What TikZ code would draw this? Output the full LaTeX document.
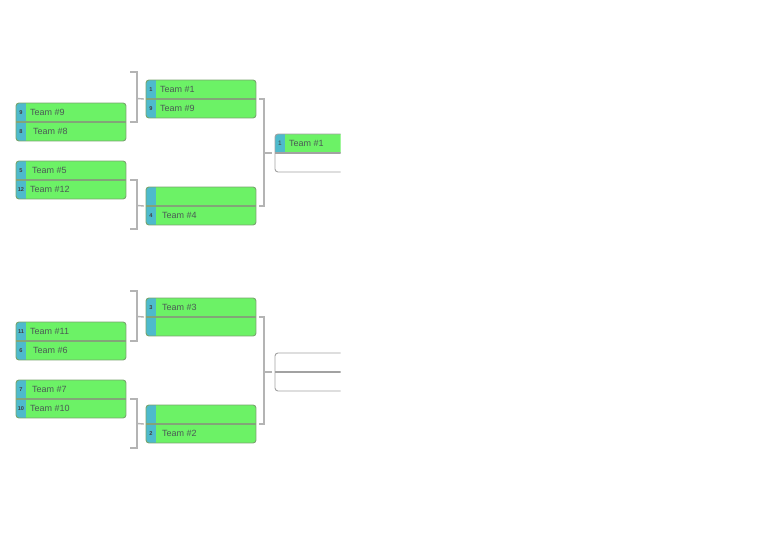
\documentclass[tikz,border=0pt]{standalone}
\usepackage{fontspec}
\setmainfont{Liberation Sans}
\usetikzlibrary{calc}
\definecolor{tgreen}{RGB}{108,242,102}
\definecolor{seedblue}{RGB}{78,186,204}
\definecolor{mborder}{RGB}{120,165,110}
\definecolor{mdivide}{RGB}{130,165,120}
\definecolor{connc}{RGB}{180,180,180}
\definecolor{txtc}{RGB}{75,90,85}
\tikzset{
  matchnode/.style={inner sep=0pt, minimum width=110pt, minimum height=38pt},
  matchborder/.style={draw=mborder, line width=0.9pt, rounded corners=3pt},
  divider/.style={draw=mdivide, line width=1.6pt},
  seedtxt/.style={inner sep=0pt, font=\fontsize{5.6}{5.6}\selectfont\bfseries, text=black!75},
  teamtxt/.style={inner sep=0pt, anchor=west, font=\fontsize{9}{9}\selectfont, text=txtc},
  conn/.style={draw=connc, line width=1.4pt},
  emptyborder/.style={draw=connc!90!black, line width=0.9pt, rounded corners=3pt}
}
\newcommand{\drawmatch}[9]{%
  \node[matchnode] (#1) at (#2+55,#3+19) {};
  \begin{scope}
    \clip[rounded corners=3pt] (#2,#3) rectangle (#2+110,#3+38);
    \fill[tgreen] (#2,#3) rectangle (#2+110,#3+38);
    \fill[seedblue] (#2,#3) rectangle (#2+10,#3+38);
  \end{scope}
  \draw[matchborder] (#2,#3) rectangle (#2+110,#3+38);
  \draw[divider] (#2,#3+19) -- (#2+110,#3+19);
  \node[seedtxt] (#1s1) at (#2+5,#3+9.5) {#4};
  \node[teamtxt] (#1t1) at (#2+#6,#3+9.5) {#5};
  \node[seedtxt] (#1s2) at (#2+5,#3+28.5) {#7};
  \node[teamtxt] (#1t2) at (#2+#9,#3+28.5) {#8};
}
\begin{document}
\begin{tikzpicture}[x=1pt,y=-1pt]
\useasboundingbox (0,0) rectangle (768,543);
\fill[white] (0,0) rectangle (768,543);

% round 1
\drawmatch{mA}{16}{103}{9}{Team \#9}{14}{8}{Team \#8}{17}
\drawmatch{mB}{16}{161}{5}{Team \#5}{16}{12}{Team \#12}{14}
\drawmatch{mC}{16}{322}{11}{Team \#11}{14}{6}{Team \#6}{17}
\drawmatch{mD}{16}{380}{7}{Team \#7}{16}{10}{Team \#10}{14}
% round 2
\drawmatch{mE}{146}{80}{1}{Team \#1}{14}{9}{Team \#9}{14}
\drawmatch{mF}{146}{187}{}{}{16}{4}{Team \#4}{16}
\drawmatch{mG}{146}{298}{3}{Team \#3}{16}{}{}{16}
\drawmatch{mH}{146}{405}{}{}{16}{2}{Team \#2}{16}

% round 3 (clipped at right)
\node[inner sep=0pt, minimum width=65pt, minimum height=38pt, anchor=west] (mI) at (275,153) {};
\node[inner sep=0pt, minimum width=65pt, minimum height=38pt, anchor=west] (mJ) at (275,372) {};
\begin{scope}
  \clip (270,0) rectangle (340.5,543);
  \begin{scope}
    \clip[rounded corners=3pt] (275,134) rectangle (350,172);
    \fill[tgreen] (275,134) rectangle (350,153);
    \fill[seedblue] (275,134) rectangle (285,153);
  \end{scope}
  \draw[emptyborder] (275,134) rectangle (350,172);
  \draw[connc!90!black, line width=1.2pt] (275,153) -- (350,153);
  \draw[emptyborder] (275,353) rectangle (350,391);
  \draw[connc!90!black, line width=1.2pt] (275,372) -- (350,372);
\end{scope}
\node[seedtxt, font=\fontsize{6.5}{6.5}\selectfont] (mIs1) at (280,143.5) {1};
\node[teamtxt] (mIt1) at (289,143.5) {Team \#1};

% connectors round 1 -> round 2
\coordinate (byeE) at (130,72);
\coordinate (jE) at (137,98.5);
\draw[conn] (byeE) -| (jE) |- ([xshift=4pt]mA.east);
\draw[conn] (jE) -- ([xshift=-2pt]mE.west);

\coordinate (byeF) at (130,229);
\coordinate (jF) at (137,205.5);
\draw[conn] ([xshift=4pt]mB.east) -| (jF) |- (byeF);
\draw[conn] (jF) -- ([xshift=-2pt]mF.west);

\coordinate (byeG) at (130,291);
\coordinate (jG) at (137,316.5);
\draw[conn] (byeG) -| (jG) |- ([xshift=4pt]mC.east);
\draw[conn] (jG) -- ([xshift=-2pt]mG.west);

\coordinate (byeH) at (130,448);
\coordinate (jH) at (137,423.5);
\draw[conn] ([xshift=4pt]mD.east) -| (jH) |- (byeH);
\draw[conn] (jH) -- ([xshift=-2pt]mH.west);

% connectors round 2 -> round 3
\coordinate (jI) at (264,153);
\draw[conn] ([xshift=3pt]mE.east) -| (jI) |- ([xshift=3pt]mF.east);
\draw[conn] (jI) -- ([xshift=-3pt]mI.west);
\coordinate (jJ) at (264,372);
\draw[conn] ([xshift=3pt]mG.east) -| (jJ) |- ([xshift=3pt]mH.east);
\draw[conn] (jJ) -- ([xshift=-3pt]mJ.west);
\end{tikzpicture}
\end{document}
